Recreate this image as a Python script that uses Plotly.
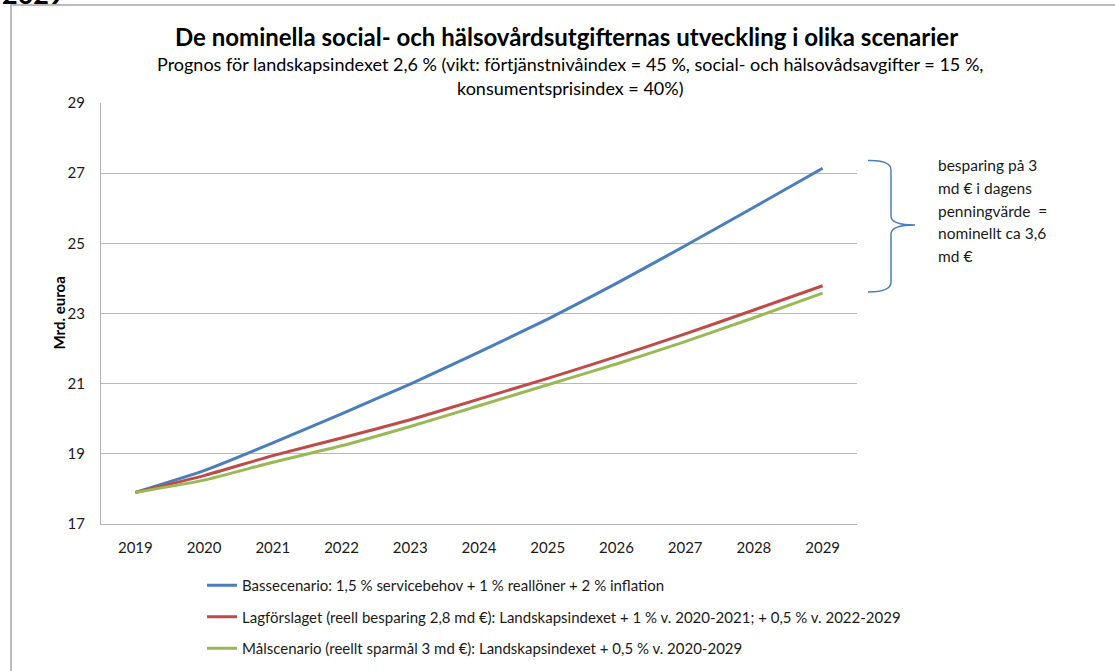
import plotly.graph_objects as go

years = ["2019", "2020", "2021", "2022", "2023", "2024", "2025", "2026", "2027", "2028", "2029"]
basscenario = [17.90, 18.52, 19.31, 20.14, 20.99, 21.90, 22.84, 23.86, 24.93, 26.03, 27.14]
lagforslaget = [17.90, 18.38, 18.95, 19.45, 19.97, 20.56, 21.15, 21.77, 22.42, 23.10, 23.79]
malscenario = [17.90, 18.25, 18.76, 19.23, 19.78, 20.37, 20.97, 21.56, 22.20, 22.88, 23.58]

names = [
    "Bassecenario: 1,5 % servicebehov + 1 % reallöner + 2 % inflation",
    "Lagförslaget (reell besparing 2,8 md €): Landskapsindexet + 1 % v. 2020-2021; + 0,5 % v. 2022-2029",
    "Målscenario (reellt sparmål 3 md €): Landskapsindexet + 0,5 % v. 2020-2029",
]
colors = ["#4a7ebb", "#be4b48", "#98b954"]
y_ticks = [17, 19, 21, 23, 25, 27, 29]

title = "De nominella social- och hälsovårdsutgifternas utveckling i olika scenarier"
sub1 = "Prognos för landskapsindexet 2,6 % (vikt: förtjänstnivåindex = 45 %, social- och hälsovådsavgifter = 15 %,"
sub2 = "konsumentsprisindex = 40%)"
ytitle = "Mrd. euroa"
note_lines = ["besparing på 3", "md € i dagens", "penningvärde  =", "nominellt ca 3,6", "md €"]

W, H = 1115, 671
L, R, T, B = 101, 258, 103, 147
PW, PH = W - L - R, H - T - B

def px(x):
    return (x - L) / PW

def py(y):
    return (H - B - y) / PH

FONT = "Lato"
fig = go.Figure()
for i, (vals, nm, c) in enumerate(zip([basscenario, lagforslaget, malscenario], names, colors)):
    fig.add_trace(go.Scatter(x=years, y=vals, name=nm, mode="lines",
                             line=dict(color=c, width=3, shape="spline", smoothing=0.5),
                             legendgroup=str(i)))

# brace path in paper coords
pts = [(868, 160.5), (891, 160), (891, 170), (891, 216), (891, 225), (915, 225),
       (891, 225), (891, 234), (891, 282), (891, 292), (868, 292)]
def P(p):
    return f"{px(p[0]):.5f},{py(p[1]):.5f}"
path = (f"M {P(pts[0])} Q {P(pts[1])} {P(pts[2])} L {P(pts[3])} Q {P(pts[4])} {P(pts[5])} "
        f"Q {P(pts[6])} {P(pts[7])} L {P(pts[8])} Q {P(pts[9])} {P(pts[10])}")

annotations = [
    dict(text=f"<b>{title}</b>", x=px(566), y=py(37), xref="paper", yref="paper",
         showarrow=False, xanchor="center", yanchor="middle",
         font=dict(family=FONT, size=24, color="#000000")),
    dict(text=sub1, x=px(570), y=py(64), xref="paper", yref="paper",
         showarrow=False, xanchor="center", yanchor="middle",
         font=dict(family=FONT, size=18, color="#000000")),
    dict(text=sub2, x=px(570), y=py(88), xref="paper", yref="paper",
         showarrow=False, xanchor="center", yanchor="middle",
         font=dict(family=FONT, size=18, color="#000000")),
    dict(text=f"<b>{ytitle}</b>", x=px(58), y=0.5, xref="paper", yref="paper",
         showarrow=False, textangle=-90, xanchor="center", yanchor="middle",
         font=dict(family=FONT, size=15, color="#000000")),
    dict(text="<b>2029</b>", x=px(0), y=py(12), xref="paper", yref="paper",
         showarrow=False, xanchor="left", yanchor="bottom",
         font=dict(family=FONT, size=27, color="#000000")),
]
for k, t in enumerate(note_lines):
    annotations.append(dict(text=t, x=px(936), y=py(165 + 22.8 * k), xref="paper", yref="paper",
                            showarrow=False, xanchor="left", yanchor="middle", align="left",
                            font=dict(family=FONT, size=15.5, color="#1a1a1a")))

fig.update_layout(
    width=W, height=H,
    margin=dict(l=L, r=R, t=T, b=B, autoexpand=False),
    paper_bgcolor="white", plot_bgcolor="white",
    font=dict(family=FONT, size=15, color="#1a1a1a"),
    showlegend=True,
    legend=dict(xref="container", yref="container", x=202 / W, y=1 - 569 / H,
                xanchor="left", yanchor="top",
                font=dict(family=FONT, size=15, color="#1a1a1a"),
                tracegroupgap=9, bgcolor="rgba(0,0,0,0)"),
    xaxis=dict(type="category", showgrid=False, showline=True, linecolor="#b3b3b3", linewidth=1,
               ticks="", ticklabelstandoff=10, tickfont=dict(size=15, color="#1a1a1a"),
               range=[-0.5, 10.5]),
    yaxis=dict(range=[17, 29], tickvals=y_ticks, showgrid=True, gridcolor="#b9b9b9", gridwidth=1,
               showline=True, linecolor="#b3b3b3", linewidth=1, zeroline=False,
               ticks="", ticklabelstandoff=12, tickfont=dict(size=15, color="#1a1a1a")),
    shapes=[
        dict(type="path", xref="paper", yref="paper", path=path,
             line=dict(color="#4a7ebb", width=1.5)),
        dict(type="rect", xref="paper", yref="paper", x0=px(11), y0=py(700), x1=px(1140), y1=py(5),
             line=dict(color="#a6a6a6", width=1.5), fillcolor="rgba(0,0,0,0)", layer="below"),
    ],
    annotations=annotations,
)

fig.write_html("out.html", config={"displayModeBar": False},
               post_script="document.body.style.margin='0px';document.body.style.overflow='hidden';")
